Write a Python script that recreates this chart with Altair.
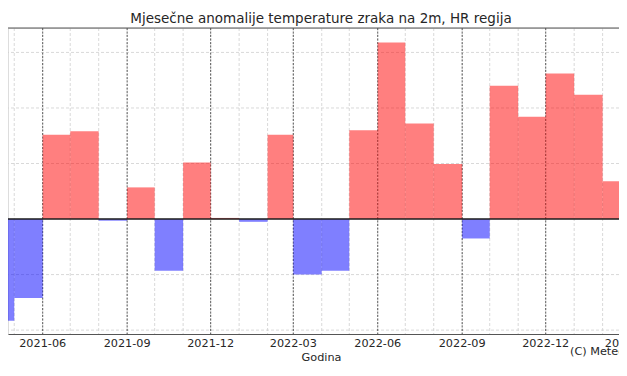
import altair as alt
import pandas as pd

# ---- data ----
months = ["2021-04", "2021-05", "2021-06", "2021-07", "2021-08", "2021-09",
          "2021-10", "2021-11", "2021-12", "2022-01", "2022-02", "2022-03",
          "2022-04", "2022-05", "2022-06", "2022-07", "2022-08", "2022-09",
          "2022-10", "2022-11", "2022-12", "2023-01", "2023-02"]
anomalies = [-1.83, -1.42, 1.52, 1.58, -0.03, 0.57,
             -0.93, 1.02, 0.02, -0.05, 1.52, -1.00,
             -0.93, 1.60, 3.18, 1.72, 0.99, -0.35,
             2.40, 1.84, 2.62, 2.24, 0.68]
major_ticks = ["2021-06", "2021-09", "2021-12", "2022-03",
               "2022-06", "2022-09", "2022-12", "2023-03"]
y_grid = [-2, -1, 1, 2, 3]
title_text = ["Mjesečne anomalije temperature zraka na 2m, HR regija"]
x_title = "Godina"
credit = ["(C) Meteo"]


def ts(s):
    return pd.Timestamp(s, tz="UTC")


def iso(t):
    return t.strftime("%Y-%m-%dT%H:%M:%SZ")


def ms(s):
    return int(ts(s).value // 10**6)


bars = pd.DataFrame({
    "start": [iso(ts(m)) for m in months],
    "end": [iso(ts(m) + pd.offsets.MonthBegin(1)) for m in months],
    "value": anomalies,
})
bars["sign"] = ["pos" if v >= 0 else "neg" for v in anomalies]

grid_months = pd.DataFrame({"m": [iso(ts(m)) for m in months + ["2023-03"]]})
major_df = pd.DataFrame({"m": [iso(ts(m)) for m in major_ticks], "label": major_ticks})
ygrid_df = pd.DataFrame({"y": y_grid})
zero_df = pd.DataFrame({"y": [0]})
credit_df = pd.DataFrame({"t": credit})
title_df = pd.DataFrame({"t": title_text})
spine_df = pd.DataFrame({"a": [0]})

FONT = "DejaVu Sans"
TXT = "#262626"
W, H = 611, 306

xscale = alt.Scale(type="utc", domain=[ms("2021-04-24 04:48"), ms("2023-02-18 20:24")], nice=False)
yscale = alt.Scale(domain=[-2.07, 3.44], nice=False, zero=False)

xaxis = alt.Axis(
    values=[ms(m) for m in major_ticks], labels=False, ticks=False,
    domain=True, domainColor="#555555", domainWidth=1, grid=False,
    title=x_title, titleFont=FONT, titleFontSize=11.25, titleFontWeight="normal",
    titleColor=TXT, titleX=313, titleY=26.4, titleBaseline="alphabetic", titleAlign="center",
)

minor_v = alt.Chart(grid_months).mark_rule(
    color="#cfcfcf", strokeWidth=0.8, strokeDash=[3, 2], clip=True
).encode(x=alt.X("m:T", scale=xscale, axis=xaxis))

hgrid = alt.Chart(ygrid_df).mark_rule(
    color="#cfcfcf", strokeWidth=0.8, strokeDash=[3, 2], clip=True
).encode(y=alt.Y("y:Q", scale=yscale, axis=None))

major_v = alt.Chart(major_df).mark_rule(
    color="#333333", strokeWidth=0.8, strokeDash=[2, 1.5], clip=True
).encode(x=alt.X("m:T", scale=xscale, axis=xaxis))

tick_labels = alt.Chart(major_df).mark_text(
    font=FONT, fontSize=11.25, color=TXT, align="center", baseline="alphabetic"
).encode(x=alt.X("m:T", scale=xscale, axis=xaxis), y=alt.value(318.5), text="label:N")

bar_layer = alt.Chart(bars).mark_rect(opacity=0.5, clip=True).encode(
    x=alt.X("start:T", scale=xscale, axis=xaxis),
    x2="end:T",
    y=alt.Y("value:Q", scale=yscale, axis=None),
    y2=alt.datum(0),
    color=alt.Color("sign:N", scale=alt.Scale(domain=["pos", "neg"], range=["#ff0000", "#0000ff"]), legend=None),
)

zero_line = alt.Chart(zero_df).mark_rule(color="#1a1a1a", strokeWidth=1.5).encode(
    y=alt.Y("y:Q", scale=yscale, axis=None)
)

top_spine = alt.Chart(spine_df).mark_rule(color="#555555", strokeWidth=1).encode(
    x=alt.value(0), x2=alt.value(W), y=alt.value(0)
)

credit_text = alt.Chart(credit_df).mark_text(
    font=FONT, fontSize=11.25, color=TXT, align="left", baseline="alphabetic"
).encode(text="t:N", x=alt.value(562), y=alt.value(327))

title_mark = alt.Chart(title_df).mark_text(
    font=FONT, fontSize=13.5, color=TXT, align="center", baseline="alphabetic"
).encode(text="t:N", x=alt.value(313), y=alt.value(-5))

chart = alt.layer(minor_v, hgrid, major_v, bar_layer, zero_line, top_spine,
                  tick_labels, credit_text, title_mark).properties(
    width=W,
    height=H,
    autosize=alt.AutoSizeParams(type="none"),
    padding={"left": 0, "right": 0, "top": 20, "bottom": 28},
).configure_view(stroke=None).configure(background="white")

chart.save("out.html", embed_options={"renderer": "svg", "actions": False})
